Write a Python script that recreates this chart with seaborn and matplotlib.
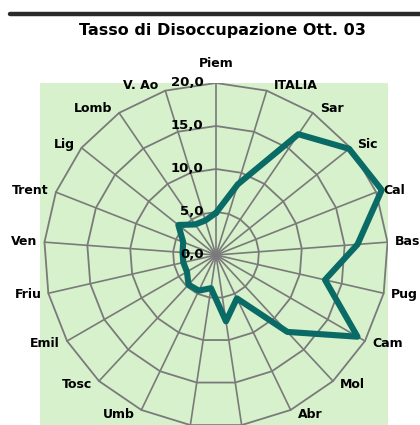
import numpy as np
import matplotlib
matplotlib.use('Agg')
import matplotlib.pyplot as plt
from matplotlib.lines import Line2D
import seaborn as sns

# categories counter-clockwise starting at the top
regions = ['Piem', 'V. Ao', 'Lomb', 'Lig', 'Trent', 'Ven', 'Friu', 'Emil',
           'Tosc', 'Umb', 'Marc', 'Laz', 'Abr', 'Mol', 'Cam', 'Pug', 'Bas',
           'Cal', 'Sic', 'Sar', 'ITALIA']
tasso = [4.9, 4.2, 4.3, 5.6, 4.1, 3.9, 3.9, 3.9, 4.7, 4.6, 3.9, 7.8, 5.6,
         12.2, 19.0, 13.0, 16.5, 20.7, 19.8, 17.0, 8.6]
ring_values = [0, 5, 10, 15, 20]
ring_labels = ['0,0', '5,0', '10,0', '15,0', '20,0']
title = 'Tasso di Disoccupazione Ott. 03'

sns.set_theme(style='white')
plt.rcParams['font.family'] = ['DejaVu Sans']

n = len(regions)
theta = np.arange(n) * 2 * np.pi / n
dir_x = -np.sin(theta)
dir_y = np.cos(theta)
rmax = ring_values[-1]

fig = plt.figure(figsize=(4.2, 4.25), dpi=100)
fig.patch.set_facecolor('white')
px = 8.6  # pixels per unit
ax = fig.add_axes([40 / 420, 0, 348 / 420, 342 / 425])
ax.set_facecolor('#d6f1cb')
ax.set_xlim(-176 / px, 172 / px)
ax.set_ylim(-170 / px, 172 / px)
for s in ax.spines.values():
    s.set_visible(False)
ax.set_xticks([])
ax.set_yticks([])

grid_col = '#7a7a7a'
# spokes
for dx, dy in zip(dir_x, dir_y):
    ax.plot([0, dx * rmax], [0, dy * rmax], color=grid_col, lw=1.2, zorder=1)
# polygon rings
for r in ring_values[1:]:
    ax.plot(np.append(dir_x, dir_x[0]) * r, np.append(dir_y, dir_y[0]) * r,
            color=grid_col, lw=1.3, zorder=1)

# data polygon
v = np.array(tasso)
xs = np.append(dir_x * v, dir_x[0] * v[0])
ys = np.append(dir_y * v, dir_y[0] * v[0])
sns.lineplot(x=xs, y=ys, sort=False, estimator=None, color='#0a6a66',
             lw=4.4, ax=ax, zorder=3)

# ring value labels
for r, lab in zip(ring_values, ring_labels):
    ax.annotate(lab, xy=(0, r), xytext=(-9, 0), textcoords='offset points',
                ha='right', va='center', fontsize=9.5, fontweight='bold',
                color='black', zorder=4, annotation_clip=False)

# category labels
for lab, dx, dy in zip(regions, dir_x, dir_y):
    if abs(dx) < 1e-6:
        ha, off = 'center', (0, 14)
    elif dx < 0:
        ha, off = 'right', (-5, 3.6 * dy)
    else:
        ha, off = 'left', (5, 3.6 * dy)
    ax.annotate(lab, xy=(dx * rmax, dy * rmax), xytext=off,
                textcoords='offset points', ha=ha, va='center',
                fontsize=9, fontweight='bold', color='black',
                annotation_clip=False)

fig.text(222 / 420, 1 - 31 / 425, title, ha='center', va='center',
         fontsize=11.5, fontweight='bold', color='black')
fig.add_artist(Line2D([10 / 420, 1], [1 - 14 / 425, 1 - 14 / 425],
                      color='#2a2a2a', lw=3.2, transform=fig.transFigure))

fig.savefig('out.png', dpi=100)
